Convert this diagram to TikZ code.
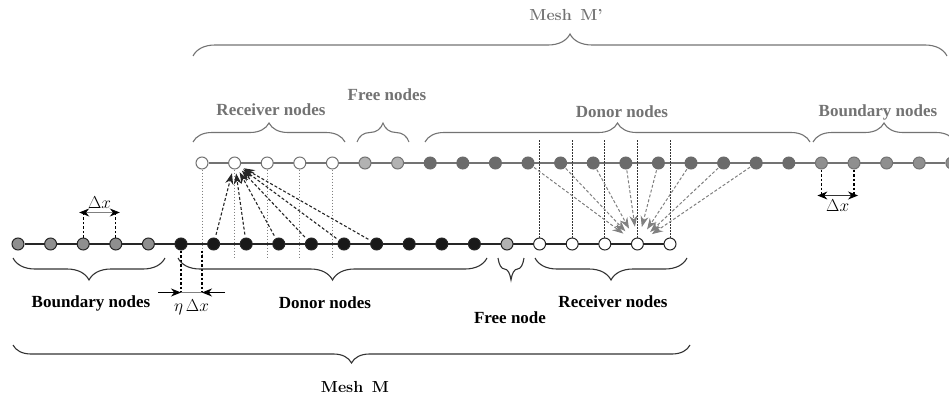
\documentclass[tikz,border=0pt]{standalone}
\usepackage{fontspec}
\newfontfamily\labelfont{Liberation Serif}
\usepackage{tikz}
\usetikzlibrary{calc, positioning, arrows.meta, decorations.pathreplacing, backgrounds}

\definecolor{upgrey}{gray}{0.45}
\definecolor{donorgrey}{gray}{0.42}
\definecolor{bndgrey}{gray}{0.56}
\definecolor{freegrey}{gray}{0.70}

\tikzset{
    lownode/.style={circle, inner sep=0pt, minimum size=12pt, line width=1pt, draw=black!85},
    upnode/.style={circle, inner sep=0pt, minimum size=12pt, line width=1pt, draw=upgrey},
    upbrace/.style={decorate, decoration={brace, amplitude=19pt}, draw=upgrey, line width=1.1pt},
    lowbrace/.style={decorate, decoration={brace, mirror, amplitude=22pt}, draw=black!80, line width=1.1pt},
    uplabel/.style={font=\labelfont\bfseries\fontsize{17}{19}\selectfont, text=upgrey},
    lowlabel/.style={font=\labelfont\bfseries\fontsize{17}{19}\selectfont},
    meshlabel/.style={font=\bfseries\fontsize{16}{18}\selectfont},
    mathlabel/.style={font=\fontsize{18}{20}\selectfont, inner sep=0pt},
    updrop/.style={draw=gray, line width=0.7pt, dash pattern=on 1.5pt off 1.5pt},
    lowdrop/.style={draw=black!80, line width=0.8pt, dash pattern=on 1.5pt off 1.5pt},
    donorarrow/.style={draw=black!85, line width=1.1pt, dash pattern=on 3pt off 2pt, -{Stealth[length=11pt, width=8pt]}, shorten <=3pt, shorten >=4pt},
    upperarrow/.style={draw=gray, line width=1pt, dash pattern=on 3pt off 2pt, -{Stealth[length=11pt, width=8pt]}, shorten <=1pt, shorten >=11pt},
    dxdash/.style={draw=black, line width=1.3pt, dash pattern=on 2.5pt off 2pt},
    dxarrow/.style={line width=0.9pt, {Stealth[length=10pt, width=8pt, color=black]}-{Stealth[length=10pt, width=8pt, color=black]}, shorten <=-4pt, shorten >=-4pt},
    etaarrow/.style={draw=black, line width=0.9pt, -{Stealth[length=10pt, width=8pt]}}
}

\begin{document}
\begin{tikzpicture}[x=1pt, y=-1pt] % one unit per pixel, y going down
    \useasboundingbox (0,0) rectangle (949,396);

    % Mesh M nodes
    \foreach \i in {0,...,20} {
        \ifnum\i<5
            \node[lownode, fill=bndgrey] (l\i) at (18+32.6*\i,244) {};
        \else
            \ifnum\i<15
                \node[lownode, fill=black!90] (l\i) at (18+32.6*\i,244) {};
            \else
                \ifnum\i<16
                    \node[lownode, fill=freegrey] (l\i) at (18+32.6*\i,244) {};
                \else
                    \node[lownode, fill=white] (l\i) at (18+32.6*\i,244) {};
                \fi
            \fi
        \fi
    }

    % Mesh M' nodes
    \foreach \j in {0,...,23} {
        \ifnum\j<5
            \node[upnode, fill=white] (u\j) at (202+32.6*\j,163) {};
        \else
            \ifnum\j<7
                \node[upnode, fill=freegrey] (u\j) at (202+32.6*\j,163) {};
            \else
                \ifnum\j<19
                    \node[upnode, fill=donorgrey, draw=donorgrey] (u\j) at (202+32.6*\j,163) {};
                \else
                    \node[upnode, fill=bndgrey] (u\j) at (202+32.6*\j,163) {};
                \fi
            \fi
        \fi
    }

    % Add the mesh lines behind the nodes
    \begin{scope}[on background layer]
        \draw[black!85, line width=1.8pt] (l0) -- (l20);
        \draw[upgrey, line width=1.8pt] (u0) -- (u23);
    \end{scope}

    % Add dotted drops between the two meshes
    \foreach \j in {0,...,4}
        \draw[updrop] (u\j.south) -- ++(0,89);
    \foreach \i in {16,...,20}
        \draw[lowdrop] (l\i.north) -- ++(0,-98);

    % Add the interpolation arrows
    \foreach \i in {6,...,11}
        \draw[donorarrow] (l\i) -- (u1);
    \foreach \j in {10,...,17}
        \draw[upperarrow] (u\j) -- (l19);

    % Add the spacing Delta x on both meshes
    \draw[dxdash] (l2.north) -- ++(0,-25) coordinate (dxl);
    \draw[dxdash] (l3.north) -- ++(0,-25) coordinate (dxr);
    \draw[dxarrow, draw=gray] (dxl) -- (dxr) node[midway, above=4pt, mathlabel] (dxlab) {$\Delta x$};

    \draw[dxdash] (u19.south) -- ++(0,26) coordinate (dxul);
    \draw[dxdash] (u20.south) -- ++(0,26) coordinate (dxur);
    \draw[dxarrow, draw=black!80] (dxul) -- (dxur) node[midway, below=4pt, mathlabel] (dxulab) {$\Delta x$};

    % Add the shift eta Delta x
    \draw[dxdash] (l5.south) -- ++(0,42) coordinate (etal);
    \draw[dxdash] (u0 |- l5.south) -- (u0 |- etal) coordinate (etar);
    \draw[gray, line width=0.8pt] ($(etal)+(-23,0)$) -- ($(etar)+(23,0)$);
    \draw[etaarrow] ($(etal)+(-23,0)$) -- (etal);
    \draw[etaarrow] ($(etar)+(23,0)$) -- (etar);
    \node[mathlabel] (etalab) at ($(etal)!0.5!(etar)+(0,15)$) {$\eta\,\Delta x$};

    % Add braces over Mesh M'
    \draw[upbrace, decoration={amplitude=22pt}] (193,56) -- (947,56);
    \draw[upbrace] (193,142) -- (345,142);
    \draw[upbrace] (357,142) -- (409,142);
    \draw[upbrace] (425,142) -- (810,142);
    \draw[upbrace] (813,142) -- (955,142);

    \node[meshlabel, text=upgrey] (mtop) at (566,15) {Mesh\, M'};
    \node[uplabel] (urec) at (271,110) {Receiver nodes};
    \node[uplabel] (ufree) at (387,95) {Free nodes};
    \node[uplabel] (udon) at (622,112) {Donor nodes};
    \node[uplabel] (ubnd) at (878,112) {Boundary nodes};

    % Add braces under Mesh M
    \draw[lowbrace] (13,258) -- (165,258);
    \draw[lowbrace] (178,258) -- (487,258);
    \draw[lowbrace] (498,258) -- (524,258);
    \draw[lowbrace] (535,258) -- (687,258);
    \draw[lowbrace, decoration={amplitude=18pt}] (13,345) -- (690,345);

    \node[lowlabel] (lbnd) at (91,303) {Boundary nodes};
    \node[lowlabel] (ldon) at (325,303) {Donor nodes};
    \node[lowlabel] (lfree) at (510,318) {Free node};
    \node[lowlabel] (lrec) at (613,302) {Receiver nodes};
    \node[meshlabel] (mlow) at (355,387) {Mesh\, M};
\end{tikzpicture}
\end{document}
